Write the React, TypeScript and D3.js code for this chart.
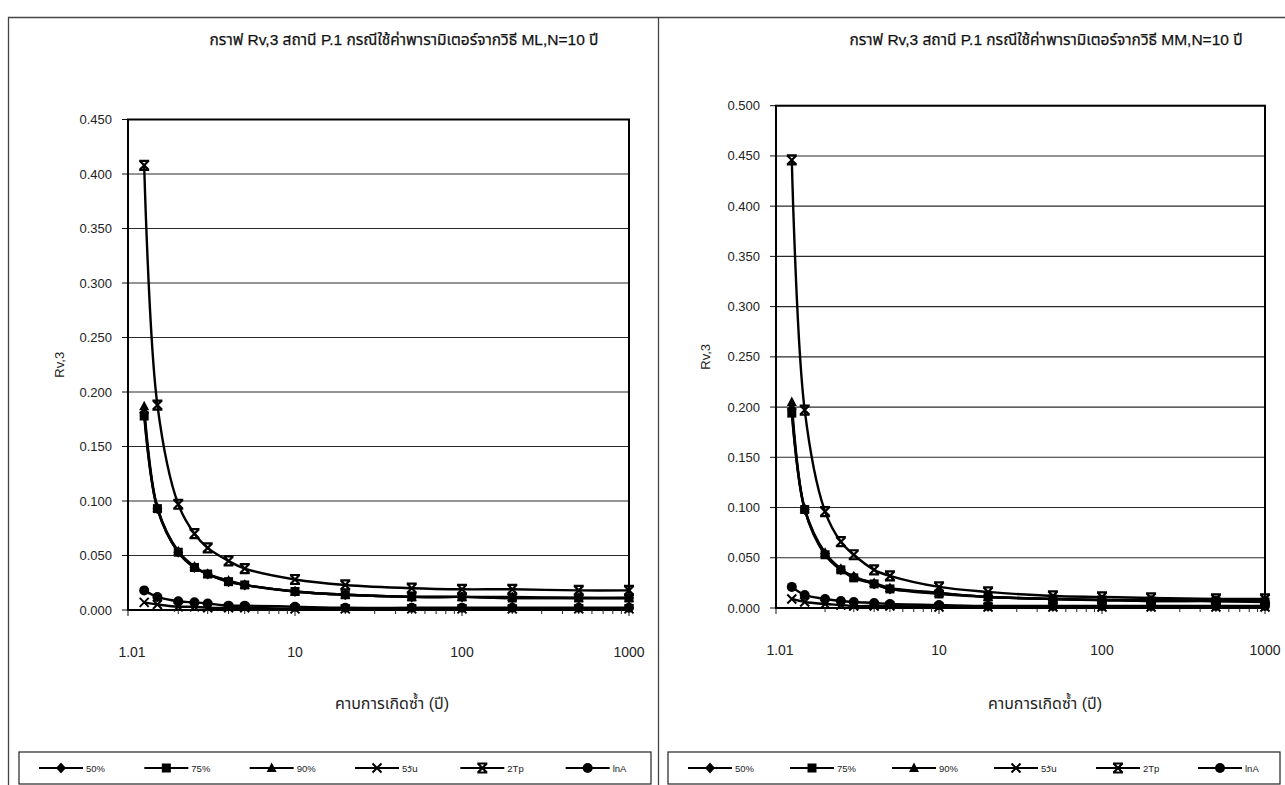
import React from "react";
import * as d3 from "d3";

const returnPeriods = [1.25, 1.5, 2, 2.5, 3, 4, 5, 10, 20, 50, 100, 200, 500, 1000];
const seriesNames = ["50%", "75%", "90%", "5วัน", "2Tp", "lnA"];
const markerTypes = ["diamond", "square", "triangle", "x", "xbar", "circle"];

// ML method
const mlP50 = [0.181, 0.093, 0.053, 0.039, 0.033, 0.026, 0.023, 0.017, 0.014, 0.012, 0.012, 0.011, 0.011, 0.011];
const mlP75 = [0.178, 0.093, 0.053, 0.039, 0.033, 0.026, 0.023, 0.017, 0.014, 0.012, 0.012, 0.011, 0.011, 0.011];
const mlP90 = [0.187, 0.094, 0.054, 0.040, 0.033, 0.027, 0.023, 0.017, 0.014, 0.012, 0.012, 0.012, 0.011, 0.011];
const ml5Day = [0.007, 0.005, 0.003, 0.003, 0.002, 0.002, 0.002, 0.001, 0.001, 0.001, 0.001, 0.001, 0.001, 0.001];
const ml2Tp = [0.408, 0.188, 0.097, 0.070, 0.057, 0.045, 0.038, 0.028, 0.023, 0.020, 0.019, 0.019, 0.018, 0.018];
const mlLnA = [0.018, 0.012, 0.008, 0.007, 0.006, 0.004, 0.004, 0.003, 0.002, 0.002, 0.002, 0.002, 0.002, 0.002];

// MM method
const mmP50 = [0.198, 0.098, 0.054, 0.038, 0.031, 0.024, 0.019, 0.015, 0.011, 0.009, 0.008, 0.007, 0.007, 0.007];
const mmP75 = [0.194, 0.098, 0.053, 0.038, 0.030, 0.024, 0.019, 0.014, 0.011, 0.009, 0.008, 0.007, 0.007, 0.006];
const mmP90 = [0.205, 0.099, 0.055, 0.039, 0.031, 0.025, 0.020, 0.015, 0.011, 0.009, 0.008, 0.008, 0.007, 0.007];
const mm5Day = [0.009, 0.006, 0.004, 0.003, 0.002, 0.002, 0.002, 0.001, 0.001, 0.001, 0.001, 0.001, 0.001, 0.001];
const mm2Tp = [0.446, 0.197, 0.096, 0.066, 0.053, 0.038, 0.032, 0.021, 0.016, 0.012, 0.011, 0.010, 0.009, 0.009];
const mmLnA = [0.021, 0.013, 0.009, 0.007, 0.006, 0.005, 0.004, 0.003, 0.002, 0.002, 0.002, 0.002, 0.002, 0.002];

const xTickValues = [1, 10, 100, 1000];
const xTickLabels = ["1.01", "10", "100", "1000"];

const titleML = "กราฟ Rv,3 สถานี P.1 กรณีใช้ค่าพารามิเตอร์จากวิธี ML,N=10 ปี";
const titleMM = "กราฟ Rv,3 สถานี P.1 กรณีใช้ค่าพารามิเตอร์จากวิธี MM,N=10 ปี";
const yTitle = "Rv,3";
const xTitle = "คาบการเกิดซ้ำ (ปี)";

const FONT = "'Liberation Sans', Arial, 'Noto Sans', 'Noto Sans Thai', sans-serif";

function Marker({ type, x, y }: { type: string; x: number; y: number }) {
  const s = 5;
  if (type === "diamond") {
    return <path d={`M${x},${y - s - 0.5}L${x + s},${y}L${x},${y + s + 0.5}L${x - s},${y}Z`} fill="#000" />;
  }
  if (type === "square") {
    return <rect x={x - 4.5} y={y - 4.5} width={9} height={9} fill="#000" />;
  }
  if (type === "triangle") {
    return <path d={`M${x},${y - 5.5}L${x + 5},${y + 4}L${x - 5},${y + 4}Z`} fill="#000" />;
  }
  if (type === "x") {
    return (
      <path d={`M${x - 4.5},${y - 4.5}L${x + 4.5},${y + 4.5}M${x + 4.5},${y - 4.5}L${x - 4.5},${y + 4.5}`} stroke="#000" strokeWidth={2} fill="none" />
    );
  }
  if (type === "xbar") {
    return (
      <path
        d={`M${x - 4.5},${y - 4.5}L${x + 4.5},${y + 4.5}M${x + 4.5},${y - 4.5}L${x - 4.5},${y + 4.5}M${x - 5},${y - 4.5}L${x + 5},${y - 4.5}M${x - 5},${y + 4.5}L${x + 5},${y + 4.5}`}
        stroke="#000"
        strokeWidth={2.2}
        fill="none"
      />
    );
  }
  return <circle cx={x} cy={y} r={5} fill="#000" />;
}

type PanelProps = {
  title: string;
  series: number[][];
  yMax: number;
  left: number;
  right: number;
  top: number;
  bottom: number;
  titleX: number;
  yTitleX: number;
  xTitleX: number;
};

function Panel(p: PanelProps) {
  const x = d3.scaleLog().domain([1, 1000]).range([p.left, p.right]);
  const y = d3.scaleLinear().domain([0, p.yMax]).range([p.bottom, p.top]);
  const yTicks = d3.range(0, p.yMax + 1e-9, 0.05);
  const minorTicks: number[] = [];
  for (let dec = 1; dec < 1000; dec *= 10) {
    for (let k = 2; k <= 9; k++) minorTicks.push(dec * k);
  }
  const line = d3
    .line<number>()
    .x((_, i) => x(returnPeriods[i]))
    .y((v) => y(v))
    .curve(d3.curveCatmullRom.alpha(0.5));

  return (
    <g>
      <text x={p.titleX} y={45} textAnchor="middle" fontSize={15.5} fontFamily={FONT} fill="#111" stroke="#111" strokeWidth={0.25}>
        {p.title}
      </text>
      {yTicks.map((t, i) => (
        <line key={"g" + i} x1={p.left} x2={p.right} y1={y(t)} y2={y(t)} stroke="#2a2a2a" strokeWidth={1.1} />
      ))}
      {yTicks.map((t, i) => (
        <g key={"yt" + i}>
          <line x1={p.left - 6} x2={p.left} y1={y(t)} y2={y(t)} stroke="#111" strokeWidth={1} />
          <text x={p.left - 16} y={y(t) + 4.5} textAnchor="end" fontSize={13} fontFamily={FONT} fill="#222">
            {d3.format(".3f")(t)}
          </text>
        </g>
      ))}
      <rect x={p.left} y={p.top} width={p.right - p.left} height={p.bottom - p.top} fill="none" stroke="#000" strokeWidth={2} />
      {minorTicks.map((t, i) => (
        <line key={"m" + i} x1={x(t)} x2={x(t)} y1={p.bottom} y2={p.bottom + 4} stroke="#222" strokeWidth={1} />
      ))}
      {xTickValues.map((t, i) => (
        <g key={"xt" + i}>
          <line x1={x(t)} x2={x(t)} y1={p.bottom} y2={p.bottom + 6} stroke="#111" strokeWidth={1} />
          <text x={x(t) + (i === 0 ? 4 : 0)} y={y(0) + 47} textAnchor="middle" fontSize={14} fontFamily={FONT} fill="#222">
            {xTickLabels[i]}
          </text>
        </g>
      ))}
      {p.series.map((vals, si) => (
        <g key={"s" + si}>
          <path d={line(vals) || ""} fill="none" stroke="#000" strokeWidth={2.4} />
          {vals.map((v, i) => (
            <Marker key={i} type={markerTypes[si]} x={x(returnPeriods[i])} y={y(v)} />
          ))}
        </g>
      ))}
      <text
        transform={`translate(${p.yTitleX},${(p.top + p.bottom) / 2}) rotate(-90)`}
        textAnchor="middle"
        fontSize={13}
        fontFamily={FONT}
        fill="#222"
      >
        {yTitle}
      </text>
      <text x={p.xTitleX} y={709} textAnchor="middle" fontSize={16} fontFamily={FONT} fill="#222">
        {xTitle}
      </text>
    </g>
  );
}

function Legend({ x0, x1 }: { x0: number; x1: number }) {
  const top = 752;
  const h = 32;
  const cy = top + h / 2;
  const step = (x1 - x0) / 6;
  return (
    <g>
      <rect x={x0} y={top} width={x1 - x0} height={h} fill="#fff" stroke="#222" strokeWidth={1.2} />
      {seriesNames.map((name, i) => {
        const lx = x0 + 20 + i * step;
        return (
          <g key={name}>
            <line x1={lx} x2={lx + 44} y1={cy} y2={cy} stroke="#000" strokeWidth={2.2} />
            <Marker type={markerTypes[i]} x={lx + 22} y={cy} />
            <text x={lx + 47} y={cy + 3.5} fontSize={9.5} fontFamily={FONT} fill="#222">
              {name}
            </text>
          </g>
        );
      })}
    </g>
  );
}

export default function App() {
  return (
    <svg
      width={1285}
      height={785}
      viewBox="0 0 1285 785"
      style={{ position: "absolute", left: 0, top: 0, background: "#fff" }}
    >
      <rect x={0} y={0} width={1285} height={785} fill="#fff" />
      <path d="M8.5,800V17.5H1285" fill="none" stroke="#444" strokeWidth={1.3} />
      <line x1={658.5} x2={658.5} y1={17} y2={800} stroke="#444" strokeWidth={1.3} />
      <Panel
        title={titleML}
        series={[mlP50, mlP75, mlP90, ml5Day, ml2Tp, mlLnA]}
        yMax={0.45}
        left={128}
        right={629}
        top={119.5}
        bottom={610}
        titleX={404}
        yTitleX={64}
        xTitleX={392}
      />
      <Panel
        title={titleMM}
        series={[mmP50, mmP75, mmP90, mm5Day, mm2Tp, mmLnA]}
        yMax={0.5}
        left={776}
        right={1265}
        top={105.7}
        bottom={608}
        titleX={1046}
        yTitleX={710}
        xTitleX={1045}
      />
      <Legend x0={19} x1={651} />
      <Legend x0={668} x1={1280} />
    </svg>
  );
}
